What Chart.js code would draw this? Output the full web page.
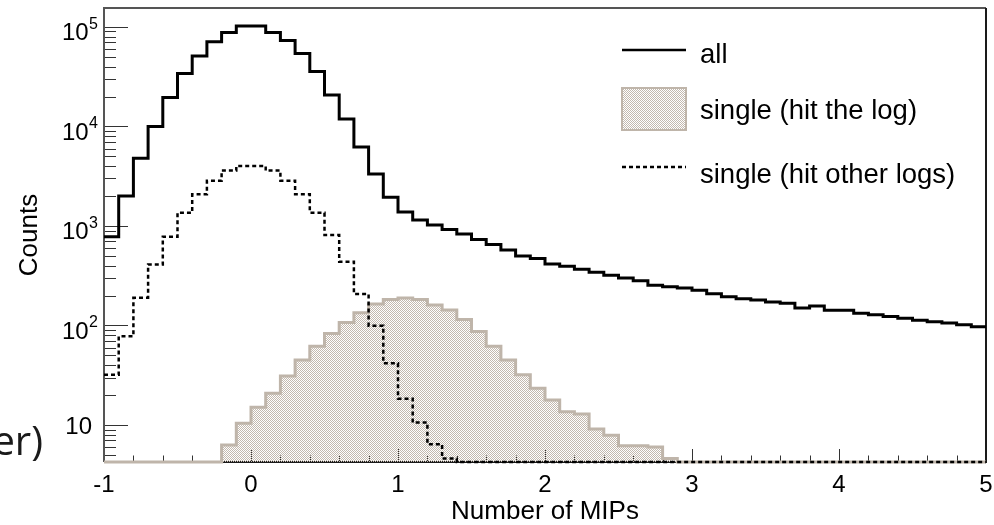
<!DOCTYPE html>
<html>
<head>
<meta charset="utf-8">
<title>Number of MIPs</title>
<script src="https://cdn.jsdelivr.net/npm/chart.js@4.4.1/dist/chart.umd.min.js"></script>
<style>
  html, body { margin: 0; padding: 0; background: #fff; }
  #mips { display: block; }
</style>
</head>
<body>
<canvas id="mips" width="994" height="525"></canvas>
<script>
// low edge of every 0.1-wide bin, -1 .. 4.9 (upper edge of the last one is X_MAX)
const binLow = [
  -1.0, -0.9, -0.8, -0.7, -0.6, -0.5, -0.4, -0.3, -0.2, -0.1,
   0.0,  0.1,  0.2,  0.3,  0.4,  0.5,  0.6,  0.7,  0.8,  0.9,
   1.0,  1.1,  1.2,  1.3,  1.4,  1.5,  1.6,  1.7,  1.8,  1.9,
   2.0,  2.1,  2.2,  2.3,  2.4,  2.5,  2.6,  2.7,  2.8,  2.9,
   3.0,  3.1,  3.2,  3.3,  3.4,  3.5,  3.6,  3.7,  3.8,  3.9,
   4.0,  4.1,  4.2,  4.3,  4.4,  4.5,  4.6,  4.7,  4.8,  4.9
];

const allCounts = [
  780, 2000, 4800, 10000, 19600, 34000, 51000, 71000, 88000, 102000,
  102000, 88000, 73000, 54000, 35600, 20700, 11900, 6200, 3330, 1940,
  1380, 1150, 1020, 920, 830, 730, 650, 575, 499, 470,
  415, 394, 367, 343, 319, 300, 282, 254, 245, 238,
  226, 209, 195, 186, 180, 172, 167, 150, 157, 142,
  142, 133, 128, 123, 118, 113, 109, 106, 102, 97
];

const hitLogCounts = [
  0, 0, 0, 0, 0, 0, 0, 0, 6.3, 10.4,
  15.1, 20.8, 31, 45, 62, 83, 107, 134, 164, 183,
  189, 183, 161, 143, 115, 87, 62, 45, 32, 23.4,
  17.8, 13.6, 12.9, 9.1, 7.9, 6.2, 6.2, 6.0, 4.6, 0,
  0, 0, 0, 0, 0, 0, 0, 0, 0, 0,
  0, 0, 0, 0, 0, 0, 0, 0, 0, 0
];

const otherLogsCounts = [
  32, 78, 190, 410, 780, 1360, 2080, 2850, 3600, 4010,
  4010, 3600, 2850, 2080, 1360, 812, 438, 207, 99.5, 41.7,
  18.4, 10.6, 6.4, 4.6, 0, 0, 0, 0, 0, 0,
  0, 0, 0, 0, 0, 0, 0, 0, 0, 0,
  0, 0, 0, 0, 0, 0, 0, 0, 0, 0,
  0, 0, 0, 0, 0, 0, 0, 0, 0, 0
];

const seriesLabels = ['all', 'single (hit the log)', 'single (hit other logs)'];
const xTickValues = [-1, 0, 1, 2, 3, 4, 5];
const yTickExponents = [1, 2, 3, 4, 5];

const X_MIN = -1, X_MAX = 5;
const Y_MIN = 4.25, Y_MAX = 1.55e5;
const FONT = '"Liberation Sans", Arial, Helvetica, sans-serif';

const canvas = document.getElementById('mips');
const ctx = canvas.getContext('2d');

// dot stipple for the filled histogram, empty cells stay transparent
function stipple(color) {
  const c = document.createElement('canvas');
  c.width = 2; c.height = 2;
  const g = c.getContext('2d');
  g.fillStyle = color;
  g.fillRect(0, 0, 1, 1);
  g.fillRect(1, 1, 1, 1);
  return ctx.createPattern(c, 'repeat');
}
const hitFill = stipple('#c3b9af');
const hitLine = '#bfb5aa';

// empty bins sit on the frame floor, last bin is closed at X_MAX
function toPoints(counts) {
  const pts = binLow.map((x, i) => ({ x: x, y: Math.max(counts[i], Y_MIN) }));
  pts.push({ x: X_MAX, y: Math.max(counts[counts.length - 1], Y_MIN) });
  return pts;
}

const frameAndTicks = {
  id: 'frameAndTicks',
  beforeDatasetsDraw(chart) {
    const { ctx, chartArea: a, scales: { x, y } } = chart;
    ctx.save();
    ctx.strokeStyle = '#333';
    ctx.lineWidth = 1;
    ctx.beginPath();
    // x ticks every 0.2, long ones on whole numbers
    for (let i = 0; i <= 30; i++) {
      const px = Math.round(x.getPixelForValue(X_MIN + i * 0.2)) + 0.5;
      const len = i % 5 === 0 ? 13 : 6.5;
      ctx.moveTo(px, a.bottom);
      ctx.lineTo(px, a.bottom - len);
    }
    // y ticks, decades long and 2..9 short
    for (let e = 0; e <= 5; e++) {
      for (let m = 1; m <= 9; m++) {
        const v = m * Math.pow(10, e);
        if (v < Y_MIN || v > Y_MAX) continue;
        const py = Math.round(y.getPixelForValue(v)) + 0.5;
        ctx.moveTo(a.left, py);
        ctx.lineTo(a.left + (m === 1 ? 24 : 12), py);
      }
    }
    ctx.stroke();

    ctx.lineWidth = 2;
    ctx.strokeStyle = '#555';
    ctx.beginPath();
    ctx.moveTo(a.left, a.bottom);
    ctx.lineTo(a.left, a.top);
    ctx.lineTo(a.right, a.top);
    ctx.stroke();
    ctx.strokeStyle = '#1a1a1a';
    ctx.beginPath();
    ctx.moveTo(a.right, a.top);
    ctx.lineTo(a.right, a.bottom);
    ctx.lineTo(a.left, a.bottom);
    ctx.stroke();
    ctx.restore();
  },
  afterDraw(chart) {
    const { ctx, scales: { y } } = chart;
    ctx.save();
    ctx.fillStyle = '#000';
    ctx.textBaseline = 'alphabetic';
    // y labels: 10, then 10 with a raised exponent
    yTickExponents.forEach(e => {
      const py = y.getPixelForValue(Math.pow(10, e));
      if (e === 1) {
        ctx.font = '24px ' + FONT;
        ctx.textAlign = 'right';
        ctx.fillText('10', 92, py + 8.5);
        return;
      }
      ctx.font = '16px ' + FONT;
      const we = ctx.measureText(String(e)).width;
      ctx.textAlign = 'left';
      ctx.fillText(String(e), 98 - we, py + 2);
      ctx.font = '24px ' + FONT;
      ctx.textAlign = 'right';
      ctx.fillText('10', 98 - we - 0.5, py + 13.5);
    });

    // clipped caption left of the axis
    ctx.font = '40px "Open Sans", sans-serif';
    ctx.fillStyle = '#1a1a1a';
    ctx.textAlign = 'right';
    ctx.fillText('er)', 43, 455);
    ctx.restore();
  }
};

const histLegend = {
  id: 'histLegend',
  afterDatasetsDraw(chart) {
    const { ctx } = chart;
    const sets = chart.data.datasets;
    const x0 = 622, x1 = 686, tx = 700;
    const rowY = [50, 109, 167];
    const baseY = [63, 119, 183];
    ctx.save();
    sets.forEach((ds, i) => {
      const cy = rowY[i];
      if (ds.fill) {
        ctx.fillStyle = ds.backgroundColor;
        ctx.fillRect(x0, cy - 21, x1 - x0, 42);
        ctx.strokeStyle = ds.borderColor;
        ctx.lineWidth = 2;
        ctx.strokeRect(x0, cy - 21, x1 - x0, 42);
      } else {
        ctx.strokeStyle = ds.borderColor;
        ctx.lineWidth = 2.5;
        ctx.setLineDash(ds.borderDash || []);
        ctx.beginPath();
        ctx.moveTo(x0, cy);
        ctx.lineTo(x1, cy);
        ctx.stroke();
        ctx.setLineDash([]);
      }
      ctx.fillStyle = '#000';
      ctx.font = '27.5px ' + FONT;
      ctx.textAlign = 'left';
      ctx.textBaseline = 'alphabetic';
      ctx.fillText(ds.label, tx, baseY[i]);
    });
    ctx.restore();
  }
};

new Chart(ctx, {
  type: 'line',
  data: {
    datasets: [
      {
        label: seriesLabels[0],
        data: toPoints(allCounts),
        borderColor: '#000',
        borderWidth: 3,
        stepped: true,
        pointRadius: 0,
        fill: false,
        clip: false,
        order: 0
      },
      {
        label: seriesLabels[1],
        data: toPoints(hitLogCounts),
        borderColor: hitLine,
        backgroundColor: hitFill,
        borderWidth: 3,
        stepped: true,
        pointRadius: 0,
        fill: 'start',
        clip: false,
        order: 1
      },
      {
        label: seriesLabels[2],
        data: toPoints(otherLogsCounts),
        borderColor: '#000',
        borderWidth: 2.5,
        borderDash: [4, 3],
        stepped: true,
        pointRadius: 0,
        fill: false,
        clip: false,
        order: 0
      }
    ]
  },
  options: {
    responsive: false,
    animation: false,
    devicePixelRatio: 1,
    layout: { padding: { top: 8, right: 8, bottom: 0, left: 0 } },
    plugins: {
      legend: { display: false },
      tooltip: { enabled: false }
    },
    scales: {
      x: {
        type: 'linear',
        min: X_MIN,
        max: X_MAX,
        afterBuildTicks: s => { s.ticks = xTickValues.map(v => ({ value: v })); },
        ticks: {
          font: { family: FONT, size: 24 },
          color: '#000',
          padding: 9,
          maxRotation: 0,
          autoSkip: false,
          callback: v => String(v)
        },
        grid: { display: false, drawTicks: false },
        border: { display: false },
        title: {
          display: true,
          text: 'Number of MIPs',
          color: '#000',
          font: { family: FONT, size: 26, lineHeight: 1 },
          padding: 0
        },
        afterFit: s => { s.height = 63; s.paddingLeft = 0; s.paddingRight = 0; }
      },
      y: {
        type: 'logarithmic',
        min: Y_MIN,
        max: Y_MAX,
        ticks: { display: false },
        grid: { display: false, drawTicks: false },
        border: { display: false },
        title: {
          display: true,
          text: 'Counts',
          color: '#000',
          font: { family: FONT, size: 26, lineHeight: 1 },
          padding: { top: 17, bottom: 0 }
        },
        afterFit: s => { s.width = 104; }
      }
    }
  },
  plugins: [frameAndTicks, histLegend]
});
</script>
</body>
</html>
